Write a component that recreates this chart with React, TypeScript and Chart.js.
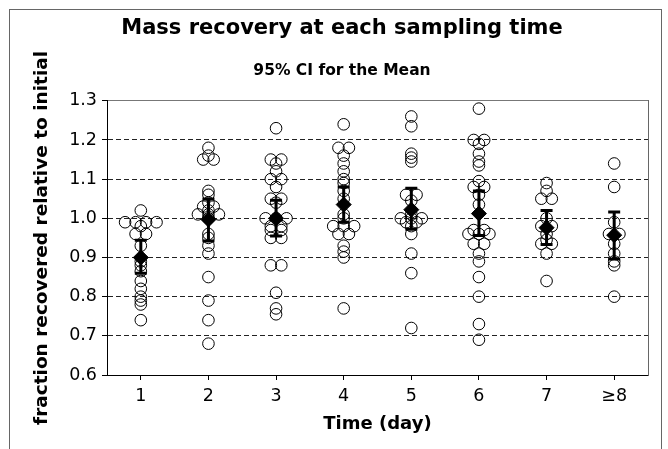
import { useEffect, useRef } from "react";
import { Chart, registerables } from "chart.js";

Chart.register(...registerables);

const categories = ["1", "2", "3", "4", "5", "6", "7", "≥8"];

const day1 = [1.02, 0.99, 0.99, 0.99, 0.99, 0.98, 0.96, 0.96, 0.93, 0.89, 0.88, 0.865, 0.84, 0.82, 0.8, 0.79, 0.78, 0.74];
const day2 = [1.18, 1.16, 1.15, 1.15, 1.07, 1.06, 1.04, 1.03, 1.03, 1.02, 1.01, 1.01, 1.01, 1.0, 0.96, 0.95, 0.93, 0.91, 0.85, 0.79, 0.74, 0.68];
const day3 = [1.23, 1.15, 1.15, 1.14, 1.12, 1.1, 1.1, 1.08, 1.05, 1.05, 1.04, 1.0, 1.0, 1.0, 0.98, 0.98, 0.97, 0.97, 0.95, 0.95, 0.88, 0.88, 0.81, 0.77, 0.755];
const day4 = [1.24, 1.18, 1.18, 1.16, 1.14, 1.12, 1.1, 1.09, 1.07, 1.05, 1.01, 1.0, 0.98, 0.98, 0.98, 0.96, 0.96, 0.93, 0.915, 0.9, 0.77];
const day5 = [1.26, 1.235, 1.165, 1.155, 1.145, 1.06, 1.06, 1.045, 1.01, 1.0, 1.0, 1.0, 0.99, 0.99, 0.98, 0.96, 0.91, 0.86, 0.72];
const day6 = [1.28, 1.2, 1.2, 1.19, 1.165, 1.145, 1.135, 1.095, 1.08, 1.08, 1.06, 1.035, 0.97, 0.97, 0.96, 0.96, 0.96, 0.935, 0.935, 0.91, 0.89, 0.85, 0.8, 0.73, 0.69];
const day7 = [1.09, 1.07, 1.05, 1.05, 1.0, 0.98, 0.98, 0.96, 0.945, 0.935, 0.935, 0.91, 0.84];
const day8plus = [1.14, 1.08, 0.99, 0.96, 0.96, 0.935, 0.91, 0.89, 0.88, 0.8];

const meanValues = [0.9, 0.997, 1.0, 1.035, 1.022, 1.012, 0.976, 0.957];
const ciLow = [0.86, 0.942, 0.955, 0.99, 0.972, 0.956, 0.933, 0.896];
const ciHigh = [0.944, 1.049, 1.046, 1.08, 1.077, 1.07, 1.02, 1.016];

const yMin = 0.6;
const yMax = 1.3;
const yStep = 0.1;

const FONT = "DejaVu Sans";
const JITTER = 0.155; // horizontal spread of tied values, in category units

function swarm(values: number[], cat: number) {
  return values.map((v, i) => {
    const tiedIdx: number[] = [];
    values.forEach((u, j) => {
      if (Math.abs(u - v) < 0.004) tiedIdx.push(j);
    });
    const rank = tiedIdx.indexOf(i);
    const offset = (rank - (tiedIdx.length - 1) / 2) * JITTER;
    return { x: cat + offset, y: v };
  });
}

const framePlugin = {
  id: "figureFrame",
  beforeDraw(chart: any) {
    const { ctx, width, height } = chart;
    ctx.save();
    ctx.fillStyle = "#fff";
    ctx.fillRect(0, 0, width, height);
    ctx.strokeStyle = "#666";
    ctx.lineWidth = 1;
    ctx.strokeRect(9.5, 9.5, 652, height + 20);
    ctx.restore();
  },
};

const ciPlugin = {
  id: "ciBars",
  afterDatasetsDraw(chart: any) {
    const { ctx } = chart;
    const xs = chart.scales.x;
    const ys = chart.scales.y;
    ctx.save();
    ctx.strokeStyle = "#000";
    ctx.lineWidth = 3;
    ciLow.forEach((lo, i) => {
      const hi = ciHigh[i];
      const px = xs.getPixelForValue(i);
      const yl = ys.getPixelForValue(lo);
      const yh = ys.getPixelForValue(hi);
      ctx.beginPath();
      ctx.moveTo(px, yl);
      ctx.lineTo(px, yh);
      ctx.moveTo(px - 6, yl);
      ctx.lineTo(px + 6, yl);
      ctx.moveTo(px - 6, yh);
      ctx.lineTo(px + 6, yh);
      ctx.stroke();
    });
    ctx.restore();
  },
};

export default function App() {
  const ref = useRef<HTMLCanvasElement | null>(null);

  useEffect(() => {
    document.body.style.margin = "0";
    document.body.style.overflow = "hidden";
    const canvas = ref.current;
    if (!canvas) return;
    const groups = [day1, day2, day3, day4, day5, day6, day7, day8plus];
    const points = groups.flatMap((g, i) => swarm(g, i));
    const means = meanValues.map((m, i) => ({ x: i, y: m }));

    const chart = new Chart(canvas, {
      type: "scatter",
      data: {
        datasets: [
          {
            label: "Individual values",
            data: points,
            pointStyle: "circle",
            pointRadius: 5.8,
            pointHoverRadius: 5.8,
            borderColor: "#000",
            backgroundColor: "rgba(0,0,0,0)",
            borderWidth: 1,
          },
          {
            label: "Mean",
            data: means,
            pointStyle: "rectRot",
            pointRadius: 7.5,
            pointHoverRadius: 7.5,
            borderColor: "#000",
            backgroundColor: "#000",
            borderWidth: 1,
          },
        ],
      },
      options: {
        animation: false,
        responsive: false,
        events: [],
        layout: { padding: { left: 26, right: 10, top: 0, bottom: 0 } },
        plugins: {
          legend: { display: false },
          tooltip: { enabled: false },
          title: {
            display: true,
            text: "Mass recovery at each sampling time",
            color: "#000",
            font: { family: FONT, size: 21, weight: "bold" },
            padding: { top: 16, bottom: 0 },
          },
          subtitle: {
            display: true,
            text: "95% CI for the Mean",
            color: "#000",
            font: { family: FONT, size: 15.5, weight: "bold" },
            padding: { top: 20, bottom: 21 },
          },
        },
        scales: {
          x: {
            type: "linear",
            min: -0.5,
            max: 7.5,
            afterBuildTicks: (s: any) => {
              s.ticks = categories.map((_, i) => ({ value: i }));
            },
            afterFit: (s: any) => {
              s.height = 74;
            },
            ticks: {
              callback: (v: any) => categories[Math.round(Number(v))],
              color: "#000",
              font: { family: FONT, size: 17.5 },
              padding: 6,
              autoSkip: false,
              maxRotation: 0,
            },
            grid: {
              drawOnChartArea: false,
              drawTicks: true,
              tickLength: 5,
              tickColor: "#000",
            },
            border: { display: true, color: "#000", width: 1 },
            title: {
              display: true,
              text: "Time (day)",
              color: "#000",
              font: { family: FONT, size: 18, weight: "bold" },
              padding: { top: 0, bottom: 14 },
            },
          },
          x2: {
            type: "linear",
            position: "top",
            min: -0.5,
            max: 7.5,
            afterFit: (s: any) => {
              s.height = 0;
            },
            ticks: { display: false },
            grid: { display: false },
            border: { display: true, color: "#777", width: 1 },
          },
          y: {
            type: "linear",
            min: yMin,
            max: yMax,
            afterFit: (s: any) => {
              s.width = 81;
            },
            ticks: {
              stepSize: yStep,
              callback: (v: any) => Number(v).toFixed(1),
              color: "#000",
              font: { family: FONT, size: 17.5 },
              padding: 5,
            },
            grid: {
              color: (c: any) => (c.tick && c.tick.value < yMin + 0.05 ? "rgba(0,0,0,0)" : "#222"),
              lineWidth: 1,
              tickLength: 5,
              tickColor: "#000",
              tickWidth: 1,
            },
            border: { display: true, color: "#000", width: 1, dash: [5, 3] },
            title: {
              display: true,
              text: "fraction recovered relative to initial",
              color: "#000",
              font: { family: FONT, size: 18.5, weight: "bold" },
              padding: { top: 5, bottom: 0 },
            },
          },
          y2: {
            type: "linear",
            position: "right",
            min: yMin,
            max: yMax,
            afterFit: (s: any) => {
              s.width = 10;
            },
            ticks: { display: false },
            grid: { display: false },
            border: { display: true, color: "#666", width: 1 },
          },
        },
      },
      plugins: [framePlugin, ciPlugin],
    } as any);

    return () => chart.destroy();
  }, []);

  return (
    <canvas
      ref={ref}
      width={668}
      height={449}
      style={{ display: "block", width: 668, height: 449 }}
    />
  );
}
